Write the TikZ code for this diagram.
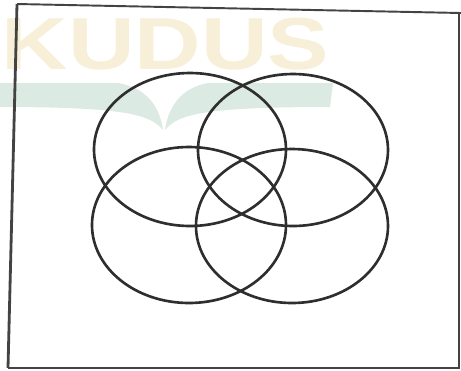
\documentclass[tikz,border=0pt]{standalone}
\usepackage{fontspec}
\usepackage{tikz}
\usetikzlibrary{positioning}
\newfontfamily\wmfont{Liberation Sans}
\definecolor{wmyel}{HTML}{F8EFD8}
\definecolor{wmteal}{HTML}{DCEAE4}
\definecolor{inkc}{HTML}{2E2E2E}

\begin{document}
\begin{tikzpicture}[x=0.02cm,y=-0.02cm,
    venn/.style={draw=inkc,line width=1.5pt},
    frameline/.style={draw=inkc!90,line width=1.1pt},
    wmtext/.style={text=wmyel,font=\wmfont\bfseries\fontsize{42}{42}\selectfont,
      inner sep=0pt,xscale=1.25,transform shape}]
  \useasboundingbox (0,0) rectangle (461,370);
  % faint watermark behind the drawing
  \node[wmtext,anchor=west] (wm) at (1,44) {KUDUS};
  \fill[wmteal] (0,83) -- (118,83) .. controls (148,88) and (160,108) .. (163,130)
     .. controls (150,114) and (122,107) .. (0,107) -- cycle;
  \fill[wmteal] (333,83) -- (208,83) .. controls (180,88) and (168,108) .. (165,130)
     .. controls (178,114) and (205,107) .. (330,107) -- cycle;
  % frame of the universal set
  \draw[frameline] (8,368) -- (459,368) -- (459,14);
  \draw[frameline] (461,13) -- (17,4);
  \draw[frameline,line width=1.6pt] (17,4) -- (8,368);
  % four overlapping sets
  \foreach \cx/\cy/\rx/\ry in {190/149.5/96/76.5, 293/150/95/76, 189/225/97/78, 292/226/96/77}
    \draw[venn] (\cx,\cy) circle[x radius=\rx, y radius=\ry];
\end{tikzpicture}
\end{document}
